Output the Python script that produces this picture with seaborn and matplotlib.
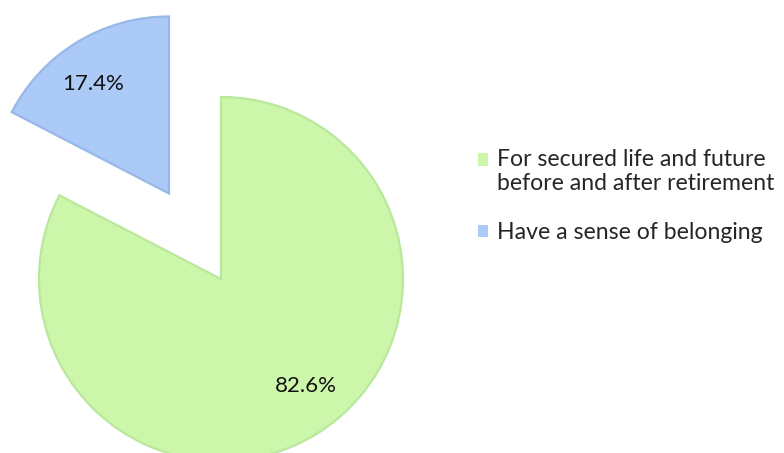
import matplotlib
matplotlib.use("Agg")
import numpy as np
import matplotlib.pyplot as plt
import seaborn as sns

categories = ["For secured life and future\nbefore and after retirement",
              "Have a sense of belonging"]
shares = [82.6, 17.4]
colors = ["#ccf7ab", "#abcaf7"]
edge_colors = ["#b9e89c", "#98b8e8"]

sns.set_theme(style="white")
plt.rcParams["font.family"] = ["Lato", "DejaVu Sans"]

W, H, DPI = 784, 453, 100
fig = plt.figure(figsize=(W / DPI, H / DPI), dpi=DPI)
ax = fig.add_axes([0, 0, 1, 1])

# one data unit = pie radius in pixels
r_px = 182.0
cx, cy = 221.0, 279.0

wedges, texts, autotexts = ax.pie(
    shares,
    colors=colors,
    startangle=90,
    counterclock=False,
    explode=[0, 0.55],
    autopct="%.1f%%",
    pctdistance=0.73,
    radius=1.0,
    frame=True,
    wedgeprops=dict(linewidth=1.6),
    textprops=dict(fontsize=16, color="#111111"),
)
for w, ec in zip(wedges, edge_colors):
    w.set_edgecolor(ec)
wedges[1].set_radius(177 / r_px)

# place the percentage labels relative to each wedge's apex
label_polar = [(0.75, -51.7), (0.733, 124.5)]
for w, t, (d, ang) in zip(wedges, autotexts, label_polar):
    x0, y0 = w.center
    a = np.deg2rad(ang)
    t.set_position((x0 + d * np.cos(a), y0 + d * np.sin(a)))

ax.set_xlim(-cx / r_px, (W - cx) / r_px)
ax.set_ylim(-(H - cy) / r_px, cy / r_px)
ax.set_aspect("auto")
ax.axis("off")

leg = ax.legend(
    wedges, categories,
    loc="upper left",
    bbox_to_anchor=(478 / W, 1 - 149.5 / H),
    frameon=False,
    fontsize=16.6,
    handlelength=0.45,
    handleheight=0.45,
    handletextpad=0.36,
    labelspacing=1.25,
    borderpad=0,
    borderaxespad=0,
)
for txt in leg.get_texts():
    txt.set_linespacing(1.12)
for h in leg.legend_handles:
    h.set_linewidth(0)
# align the two-line entry's swatch with its first line
first = leg.legend_handles[0]
first.set_y(first.get_y() + 9.0)

fig.savefig("out.png", dpi=DPI)
